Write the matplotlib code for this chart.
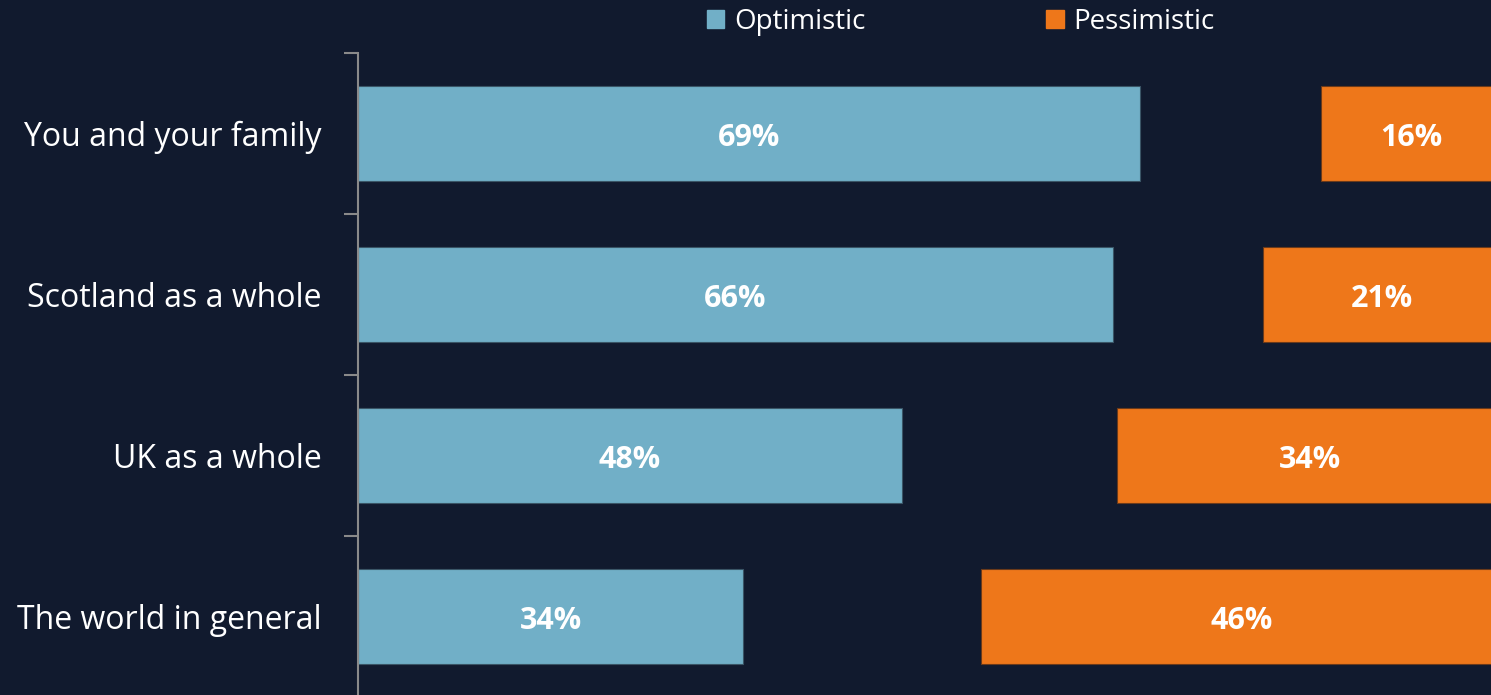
import matplotlib.pyplot as plt
from matplotlib.patches import Patch

# Data
categories = ['You and your family', 'Scotland as a whole', 'UK as a whole', 'The world in general']
optimistic = [69, 66.6, 48, 34]
neither = [16, 13.3, 19, 21]
pessimistic = [16, 21, 34, 46]

bg = '#111a2e'
teal = '#71afc7'
orange = '#ee771a'

plt.rcParams['font.family'] = ['Open Sans', 'DejaVu Sans']

fig = plt.figure(figsize=(14.91, 6.95), dpi=100, facecolor=bg)
ax = fig.add_axes([358 / 1491, -2 / 695, 1133 / 1491, 644 / 695])
ax.set_facecolor(bg)

y = list(range(len(categories)))
h = 0.584
ax.barh(y, optimistic, height=h, color=teal, edgecolor='#3a5566', linewidth=0.8)
starts = [o + n for o, n in zip(optimistic, neither)]
ax.barh(y, pessimistic, left=starts, height=h, color=orange, edgecolor='#6b3a1a', linewidth=0.8)

# value labels
for i in y:
    ax.text(optimistic[i] / 2, i + 0.03, f'{int(optimistic[i])}%', ha='center', va='center',
            color='white', fontsize=22, fontweight='bold')
    ax.text(starts[i] + pessimistic[i] / 2, i + 0.03, f'{int(pessimistic[i])}%', ha='center',
            va='center', color='white', fontsize=22, fontweight='bold')

ax.set_xlim(0, 100)
ax.set_ylim(3.5, -0.5)
ax.set_xticks([])
ax.set_yticks([-0.5, 0.5, 1.5, 2.5, 3.5])
ax.set_yticklabels([])
ax.tick_params(axis='y', which='major', length=10, width=1.5, color='#8a8a8a')
ax.set_yticks(y, minor=True)
ax.set_yticklabels(categories, minor=True)
ax.tick_params(axis='y', which='minor', length=0, pad=26, labelsize=23, labelcolor='white')

for s in ['top', 'right', 'bottom']:
    ax.spines[s].set_visible(False)
ax.spines['left'].set_color('#8a8a8a')
ax.spines['left'].set_linewidth(1.5)

handles = [Patch(color=teal, label='Optimistic'), Patch(color=orange, label='Pessimistic')]
fig.legend(handles=handles, loc='center', bbox_to_anchor=(961 / 1491, 1 - 22 / 695), ncol=2,
           frameon=False, fontsize=20, labelcolor='white', handlelength=0.62, handleheight=0.62,
           handletextpad=0.36, columnspacing=6.5)

fig.savefig('out.png', dpi=100, facecolor=bg)
